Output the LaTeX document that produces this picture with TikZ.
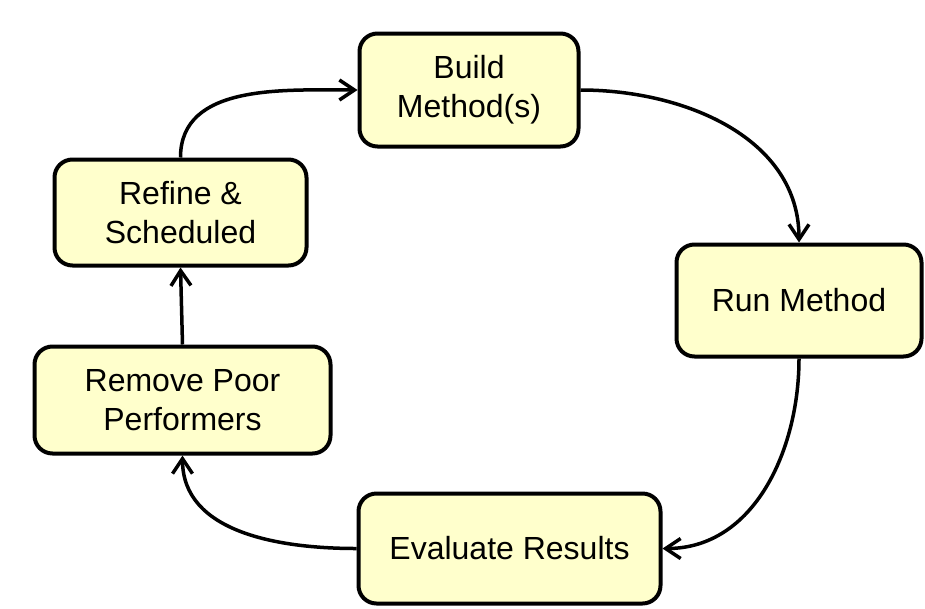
\documentclass[tikz,border=0pt]{standalone}
\usepackage{fontspec}
\setmainfont{Liberation Sans}
\usepackage{xcolor}
\usepackage{tikz}
\usetikzlibrary{arrows.meta, positioning}
\definecolor{paleyellow}{RGB}{255, 255, 204}

\begin{document}
\begin{tikzpicture}[
    x=1pt, y=-1pt,
    stage/.style={draw=black, line width=4pt, rounded corners=18pt, fill=paleyellow,
                  align=center, inner sep=0pt, font=\fontsize{32}{39}\selectfont},
    flow/.style={line width=3.5pt, -{Straight Barb[length=15pt, width=20pt, line width=3.5pt]}}
]
    \useasboundingbox (0,0) rectangle (925,608);
    \node[stage, minimum width=219pt, minimum height=113pt] (build) at (469,90) {Build\\Method(s)};
    \node[stage, minimum width=245pt, minimum height=112pt] (run) at (799,300.5) {Run Method};
    \node[stage, minimum width=302pt, minimum height=110pt] (evaluate) at (509.5,548.5) {Evaluate Results};
    \node[stage, minimum width=296pt, minimum height=107pt] (remove) at (182.5,400) {Remove Poor\\Performers};
    \node[stage, minimum width=252pt, minimum height=106pt] (refine) at (180.5,212.5) {Refine \&\\Scheduled};

    \draw[flow] (refine.north) to[out=90, in=180] (build.west);
    \draw[flow] (build.east) to[out=0, in=90] (run.north);
    \draw[flow] (run.south) to[out=-90, in=0] (evaluate.east);
    \draw[flow] (evaluate.west) to[out=180, in=-90] (remove.south);
    \draw[flow] (remove.north) -- (refine.south);
\end{tikzpicture}
\end{document}
